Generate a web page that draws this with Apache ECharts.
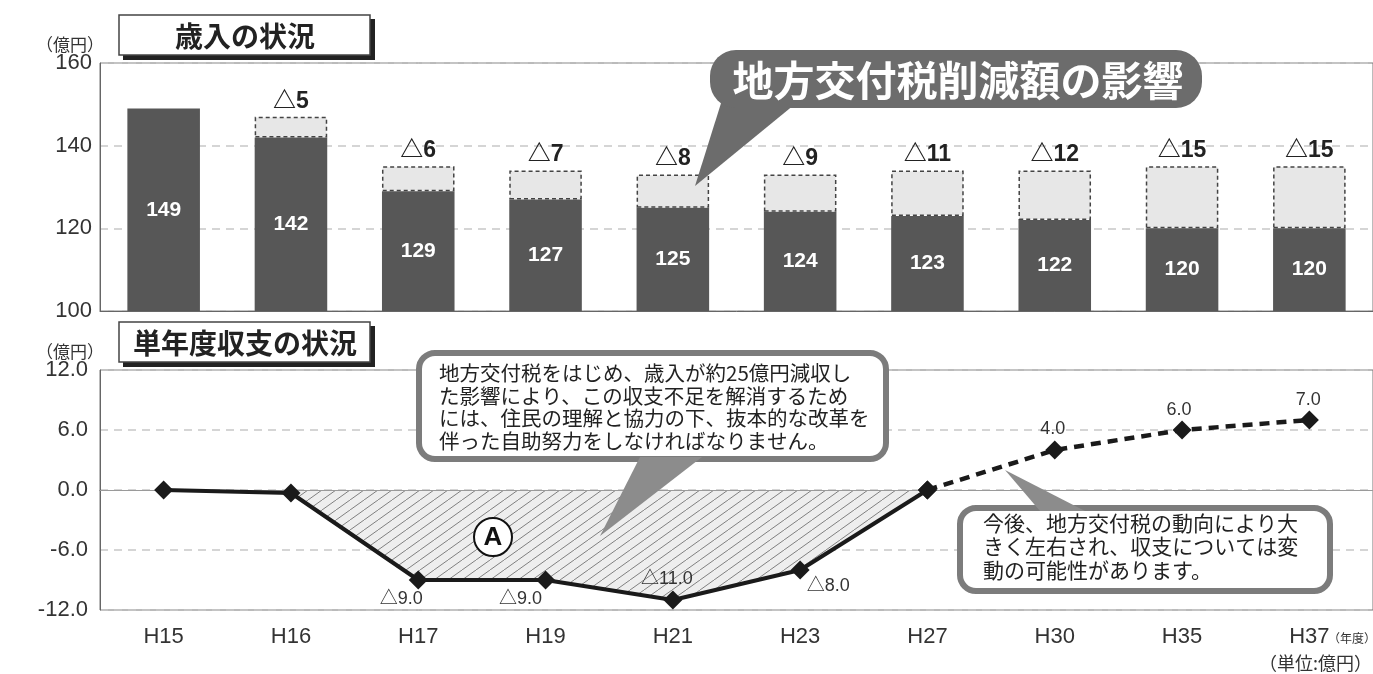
<!DOCTYPE html>
<html><head><meta charset="utf-8">
<script src="https://cdn.jsdelivr.net/npm/echarts@6/dist/echarts.min.js"></script>
<style>html,body{margin:0;padding:0;background:#fff}#c{width:1373px;height:674px}</style>
</head><body><div id="c"></div>
<script>
// ---- data ----
const years = ['H15','H16','H17','H19','H21','H23','H27','H30','H35','H37'];
const revenue = [149,142,129,127,125,124,123,122,120,120];
const cutAmount = [null,5,6,7,8,9,11,12,15,15];
const balance = [0,-0.3,-9,-9,-11,-8,0,4,6,7];
const revenueTicks = [100,120,140,160];
const balanceTicks = [-12,-6,0,6,12];
const forecastStart = 6;          // index of H27: dashed from here on
const deficitRange = [1,6];       // hatched area H16..H27
const labelledIdx = [2,3,4,5,7,8,9];

// ---- styles (not data) ----
const labelOffsets = {2:[-17,19],3:[-25,19],4:[-6,-21],5:[28,16],7:[-2,-21],8:[-3,-20],9:[-1,-20]};
const LAT = "'Liberation Sans','Noto Sans CJK JP',sans-serif";
const JP = "'Noto Sans CJK JP',sans-serif";

function hatch(){
  const W=14,H=10,c=document.createElement('canvas');c.width=W;c.height=H;
  const g=c.getContext('2d');g.fillStyle='#eeeeee';g.fillRect(0,0,W,H);
  g.strokeStyle='#808080';g.lineWidth=1;
  [[-W,0],[0,0],[W,0]].forEach(([dx])=>{g.beginPath();g.moveTo(dx,H);g.lineTo(dx+W,0);g.stroke();});
  return c;
}
function fmtBal(v){return v<0?'△'+Math.abs(v).toFixed(1):v.toFixed(1);}

const solid = balance.map((v,i)=>i<=forecastStart?v:null);
const dashed = balance.map((v,i)=>i>=forecastStart?v:null);
const area = balance.map((v,i)=>(i>=deficitRange[0]&&i<=deficitRange[1])?v:null);
function withLabels(arr){
  return arr.map((v,i)=>{
    if(v===null) return null;
    if(labelledIdx.indexOf(i)<0) return {value:v};
    return {value:v,label:{show:true,position:'inside',offset:labelOffsets[i],formatter:fmtBal(v),
      fontSize:18,color:'#333',fontFamily:LAT}};
  });
}

const chart = echarts.init(document.getElementById('c'),null,{renderer:'canvas'});
const t = (text,x,y,font,fill,align,valign,extra)=>Object.assign({type:'text',z:101,style:Object.assign({text,x,y,font,fill:fill||'#222',
  textAlign:align||'center',textVerticalAlign:valign||'middle',align:align||'center',verticalAlign:valign||'middle'},extra||{})});

chart.setOption({
  animation:false,
  backgroundColor:'#ffffff',
  grid:[
    {left:100,top:63,right:0,height:248,show:true,borderColor:'#777',borderWidth:1,backgroundColor:'transparent'},
    {left:100,top:370,right:0,height:240,show:true,borderColor:'#777',borderWidth:1,backgroundColor:'transparent'}
  ],
  xAxis:[
    {type:'category',gridIndex:0,data:years,axisTick:{show:false},axisLabel:{show:false},axisLine:{lineStyle:{color:'#666'}}},
    {type:'category',gridIndex:1,data:years,axisTick:{show:false},axisLine:{lineStyle:{color:'#666'}},
     axisLabel:{fontSize:22,color:'#333',fontFamily:LAT,margin:16}}
  ],
  yAxis:[
    {type:'value',gridIndex:0,min:revenueTicks[0],max:revenueTicks[revenueTicks.length-1],interval:revenueTicks[1]-revenueTicks[0],
     axisLine:{show:true,lineStyle:{color:'#666'}},axisTick:{show:false},
     axisLabel:{fontSize:22,color:'#333',fontFamily:LAT,margin:8},
     splitLine:{lineStyle:{color:'#c8c8c8',type:[8,6],width:1.5}}},
    {type:'value',gridIndex:1,min:balanceTicks[0],max:balanceTicks[balanceTicks.length-1],interval:balanceTicks[1]-balanceTicks[0],
     axisLine:{show:true,lineStyle:{color:'#666'}},axisTick:{show:false},
     axisLabel:{fontSize:22,color:'#333',fontFamily:LAT,margin:12,formatter:v=>v.toFixed(1)},
     splitLine:{lineStyle:{color:'#c8c8c8',type:[8,6],width:1.5}}}
  ],
  series:[
    {type:'bar',name:'歳入',xAxisIndex:0,yAxisIndex:0,stack:'r',data:revenue,barWidth:'57%',
     itemStyle:{color:'#575757'},
     label:{show:true,position:'inside',color:'#fff',fontSize:21,fontWeight:'bold',fontFamily:LAT}},
    {type:'bar',name:'削減額',xAxisIndex:0,yAxisIndex:0,stack:'r',data:cutAmount,barWidth:'57%',
     itemStyle:{color:'#e7e7e7',borderColor:'#444',borderWidth:1.5,borderType:[4,3]},
     label:{show:true,position:'top',distance:4,color:'#222',fontSize:23,fontWeight:'bold',fontFamily:LAT,
       formatter:p=>'△'+p.value}},
    {type:'line',xAxisIndex:1,yAxisIndex:1,data:area,symbol:'none',lineStyle:{width:0},
     areaStyle:{color:{image:hatch(),repeat:'repeat'},opacity:1},z:1,silent:true},
    {type:'line',xAxisIndex:1,yAxisIndex:1,data:withLabels(solid),symbol:'diamond',symbolSize:19,
     itemStyle:{color:'#1a1a1a'},lineStyle:{color:'#1a1a1a',width:4},z:5,
     markLine:{silent:true,symbol:'none',label:{show:false},lineStyle:{color:'#9a9a9a',type:'solid',width:1.2},data:[{yAxis:0}]}},
    {type:'line',xAxisIndex:1,yAxisIndex:1,data:withLabels(dashed),symbol:'diamond',symbolSize:19,
     itemStyle:{color:'#1a1a1a'},lineStyle:{color:'#1a1a1a',width:4.5,type:[10,7]},z:5}
  ],
  graphic:[
    // title box 1
    {type:'rect',z:100,shape:{x:123,y:19,width:252,height:41},style:{fill:'#222'}},
    {type:'rect',z:100,shape:{x:119,y:15,width:251,height:40},style:{fill:'#fff',stroke:'#444',lineWidth:1.5}},
    t('歳入の状況',245,36,'bold 28px '+JP,'#222'),
    t('（億円）',70,45,'17px '+JP,'#333'),
    // title box 2
    {type:'rect',z:100,shape:{x:123,y:326,width:252,height:41},style:{fill:'#222'}},
    {type:'rect',z:100,shape:{x:119,y:322,width:251,height:40},style:{fill:'#fff',stroke:'#444',lineWidth:1.5}},
    t('単年度収支の状況',245,343,'bold 28px '+JP,'#222'),
    t('（億円）',70,352,'17px '+JP,'#333'),
    // callout 1
    {type:'polygon',z:100,shape:{points:[[722,100],[800,100],[695,186]]},style:{fill:'#6c6c6c'}},
    {type:'rect',z:100,shape:{x:710,y:50,width:492,height:58,r:26},style:{fill:'#6c6c6c'}},
    t('地方交付税削減額の影響',958,80,'bold 41px '+JP,'#fff'),
    // callout 2
    {type:'rect',z:100,shape:{x:419,y:353,width:467,height:106,r:16},style:{fill:'#fff',stroke:'#7c7c7c',lineWidth:6}},
    {type:'polygon',z:100,shape:{points:[[640,457],[702,457],[600,536]]},style:{fill:'#8c8c8c'}},
    t('地方交付税をはじめ、歳入が約25億円減収し\nた影響により、この収支不足を解消するため\nには、住民の理解と協力の下、抜本的な改革を\n伴った自助努力をしなければなりません。',
      439,362,'20.5px '+JP,'#222','left','top',{lineHeight:22.5}),
    // callout 3
    {type:'rect',z:100,shape:{x:960,y:508,width:370,height:83,r:16},style:{fill:'#fff',stroke:'#7c7c7c',lineWidth:6}},
    {type:'polygon',z:100,shape:{points:[[1040,511],[1085,511],[1005,470]]},style:{fill:'#8c8c8c'}},
    t('今後、地方交付税の動向により大\nきく左右され、収支については変\n動の可能性があります。',
      983,511,'21px '+JP,'#222','left','top',{lineHeight:23.5}),
    // circle A
    {type:'circle',z:100,shape:{cx:493,cy:537,r:19},style:{fill:'#fff',stroke:'#111',lineWidth:2}},
    t('A',493,538,'bold 26px '+LAT,'#111'),
    // units
    t('（年度）',1352,638,'12px '+JP,'#333'),
    t('（単位:億円）',1372,663,'18px '+JP,'#333','right','middle')
  ]
});
</script></body></html>
